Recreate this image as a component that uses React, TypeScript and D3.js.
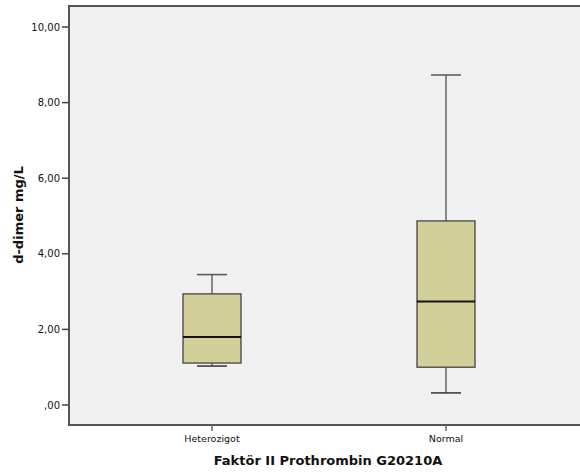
import * as d3 from "d3";

const categories = ["Heterozigot", "Normal"];
const lowWhisker = [1.03, 0.32];
const q1 = [1.11, 1.0];
const median = [1.8, 2.74];
const q3 = [2.94, 4.87];
const highWhisker = [3.45, 8.73];
const yTicks = [0, 2, 4, 6, 8, 10];

const W = 580;
const H = 475;

const App = () => {
  const left = 69;
  const top = 6;
  const bottom = 425;

  const y = d3.scaleLinear().domain([0, 10]).range([405, 27]);
  const x = d3.scalePoint<string>().domain(categories).range([212, 446]);
  const fmt = (v: number) => (v === 0 ? ",00" : d3.format(".2f")(v).replace(".", ","));

  const boxW = 58;
  const capW = 30;

  return (
    <svg width={W} height={H} style={{ position: "absolute", left: 0, top: 0 }}>
      <rect x={0} y={0} width={W} height={H} fill="#ffffff" />
      {/* plot frame: no right edge, it runs off the picture */}
      <rect x={left} y={top} width={W - left} height={bottom - top} fill="#f0f0f0" />
      <path d={`M${W},${top}H${left}V${bottom}H${W}`} fill="none" stroke="#555" strokeWidth={2} />

      {categories.map((c, i) => {
        const cx = x(c)!;
        return (
          <g key={c}>
            <line x1={cx} x2={cx} y1={y(highWhisker[i])} y2={y(q3[i])} stroke="#666" strokeWidth={1.5} />
            <line x1={cx} x2={cx} y1={y(q1[i])} y2={y(lowWhisker[i])} stroke="#666" strokeWidth={1.5} />
            <line x1={cx - capW / 2} x2={cx + capW / 2} y1={y(highWhisker[i])} y2={y(highWhisker[i])} stroke="#555" strokeWidth={1.5} />
            <line x1={cx - capW / 2} x2={cx + capW / 2} y1={y(lowWhisker[i])} y2={y(lowWhisker[i])} stroke="#333" strokeWidth={1.5} />
            <rect x={cx - boxW / 2} y={y(q3[i])} width={boxW} height={y(q1[i]) - y(q3[i])} fill="#d3cf98" stroke="#444" strokeWidth={1.3} />
            <line x1={cx - boxW / 2} x2={cx + boxW / 2} y1={y(median[i])} y2={y(median[i])} stroke="#111" strokeWidth={2} />
          </g>
        );
      })}

      {yTicks.map((t) => (
        <g key={t}>
          <line x1={62} x2={left} y1={y(t)} y2={y(t)} stroke="#444" strokeWidth={1.5} />
          <text x={60} y={y(t)} dy="0.35em" textAnchor="end" fontFamily="DejaVu Sans" fontSize={10} fill="#111">
            {fmt(t)}
          </text>
        </g>
      ))}

      {categories.map((c) => (
        <g key={c}>
          <line x1={x(c)!} x2={x(c)!} y1={bottom} y2={bottom + 6} stroke="#666" strokeWidth={1.5} />
          <text x={x(c)!} y={442} textAnchor="middle" fontFamily="DejaVu Sans" fontSize={9.5} fill="#111">
            {c}
          </text>
        </g>
      ))}

      <text x={328} y={465} textAnchor="middle" fontFamily="DejaVu Sans" fontWeight="bold" fontSize={13} fill="#111">
        Faktör II Prothrombin G20210A
      </text>
      <text transform="translate(23,215) rotate(-90)" textAnchor="middle" fontFamily="DejaVu Sans" fontWeight="bold" fontSize={13} fill="#111">
        d-dimer mg/L
      </text>
    </svg>
  );
};

export default App;
